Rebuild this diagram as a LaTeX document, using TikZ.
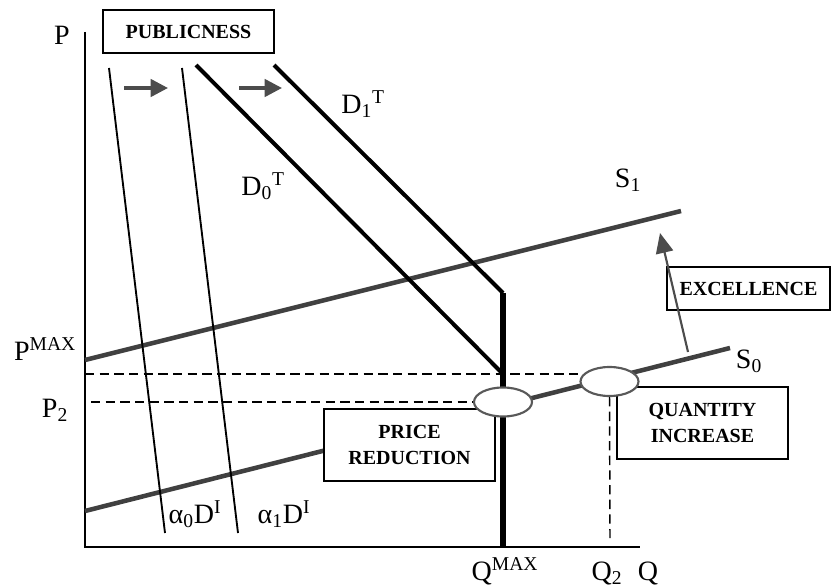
\documentclass[tikz,border=0pt]{standalone}
\usepackage{fontspec}
\setmainfont{Liberation Serif}
\usetikzlibrary{arrows.meta,shapes.geometric}

\tikzset{
  lbl/.style={font=\fontsize{21}{24}\selectfont, inner sep=0pt},
  boxlbl/.style={draw, line width=0.9pt, fill=white, align=center,
    font=\fontsize{15}{19}\selectfont\bfseries, inner sep=0pt},
  supply/.style={line width=3.4pt, draw=black!75},
  demand/.style={line width=3pt},
  idemand/.style={line width=1.4pt},
  eq/.style={ellipse, draw=black!65, line width=1.6pt, fill=white,
    minimum width=43.5pt, minimum height=21.75pt, inner sep=0pt},
  refline/.style={line width=1.1pt, dash pattern=on 7pt off 4pt},
  shiftarrow/.style={line width=2.6pt, black!70, -{Triangle[length=13pt,width=13pt]}}
}

\begin{document}
\begin{tikzpicture}[x=0.75pt, y=-0.75pt]
\useasboundingbox (0,0) rectangle (834,588);

% axes
\draw[line width=2.2pt] (85,32) -- (85,547) -- (640,547);
\node[lbl] (p) at (62,35) {P};
\node[lbl] (q) at (648,573) {Q};

% supply curves
\draw[supply] (85,360) -- (681,211);
\draw[supply] (85,511) -- (730,348);
\node[lbl] (s1) at (628,180) {S\textsubscript{1}};
\node[lbl] (s0) at (749,361) {S\textsubscript{0}};

% individual demand
\draw[idemand] (109,68) -- (165,533);
\draw[idemand] (182,68) -- (238,533);
\node[lbl] (a0) at (195,514) {α\textsubscript{0}D\textsuperscript{I}};
\node[lbl] (a1) at (284,514) {α\textsubscript{1}D\textsuperscript{I}};

% total demand
\draw[demand] (196,65) -- (503,374);
\draw[demand] (274,65) -- (503,293);
\draw[line width=4.6pt] (503,293) -- (503,547);
\node[lbl] (d0) at (263,186) {D\textsubscript{0}\textsuperscript{T}};
\node[lbl] (d1) at (363,104) {D\textsubscript{1}\textsuperscript{T}};

% shift arrows
\coordinate (a0s) at (124,88);
\coordinate (a0e) at (168,88);
\coordinate (a1s) at (239,88);
\coordinate (a1e) at (282,88);
\draw[shiftarrow] (a0s) -- (a0e);
\draw[shiftarrow] (a1s) -- (a1e);

% boxes
\node[boxlbl, minimum width=128.25pt, minimum height=32.25pt] (pub) at (188.5,31.5) {PUBLICNESS};
\node[boxlbl, minimum width=128.25pt, minimum height=54pt] (pr) at (409.5,445) {PRICE\\REDUCTION};
\node[boxlbl, minimum width=128.25pt, minimum height=54pt] (qi) at (702.5,423) {QUANTITY\\INCREASE};
\node[boxlbl, minimum width=122.25pt, minimum height=32.25pt] (ex) at (748.5,288.5) {EXCELLENCE};

% equilibria
\node[eq] (e1) at (503,402) {};
\node[eq] (e2) at (609.5,381.5) {};

% reference lines
\coordinate (pmaxl) at (85,374);
\coordinate (p2l) at (91,402);
\coordinate (q2b) at (610,538);
\draw[refline] (pmaxl) -- (pmaxl -| e2.west);
\draw[refline] (p2l) -- (e1.west);
\draw[refline] (e2.south) -- (q2b);
\node[lbl] (pmax) at (45,349) {P\textsuperscript{MAX}};
\node[lbl] (p2) at (55,410) {P\textsubscript{2}};
\node[lbl] (qmax) at (505,571) {Q\textsuperscript{MAX}};
\node[lbl] (q2) at (607,573) {Q\textsubscript{2}};

% excellence shift
\coordinate (exs) at (688,352);
\coordinate (exe) at (660,233);
\draw[line width=1.6pt, black!70, -{Triangle[length=15pt,width=13pt]}] (exs) -- (exe);
\end{tikzpicture}
\end{document}
